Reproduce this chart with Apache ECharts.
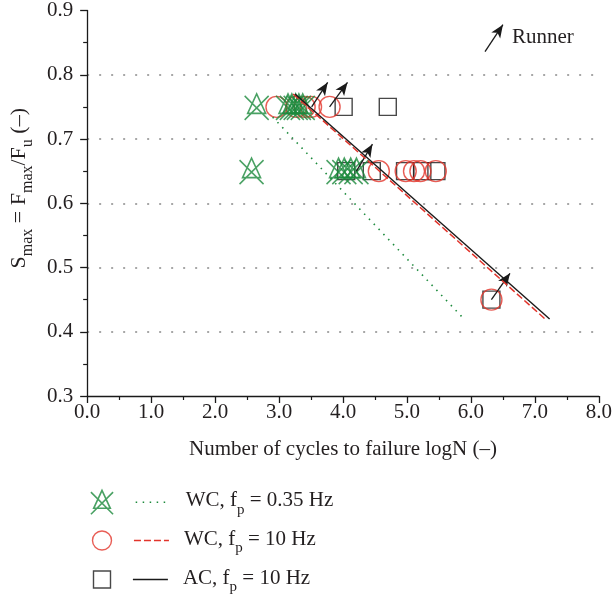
<!DOCTYPE html>
<html><head><meta charset="utf-8">
<script src="https://cdn.jsdelivr.net/npm/echarts@6/dist/echarts.min.js"></script>
<style>html,body{margin:0;padding:0;background:#fff}#c{width:615px;height:601px}</style>
</head><body><div id="c"></div>
<script>
const FONT = '"Liberation Serif", "DejaVu Serif", serif';
const FS = 21;
const TXT = '#231f20';
const GREEN = '#1c8a3c';
const RED = '#e2342b';
const BLACK = '#1a1a1a';

// tick labels
const xTickLabels = ['0.0','1.0','2.0','3.0','4.0','5.0','6.0','7.0','8.0'];
const yTickLabels = ['0.3','0.4','0.5','0.6','0.7','0.8','0.9'];

// test points [logN, Smax]
const wc035Points = [[2.65,0.75],[3.14,0.75],[3.20,0.75],[3.26,0.75],[3.31,0.75],[3.37,0.75],
                     [2.57,0.65],[3.93,0.65],[4.02,0.65],[4.12,0.65],[4.21,0.65]];
const wc10Points  = [[2.96,0.75],[3.27,0.75],[3.40,0.75],[3.50,0.75],[3.79,0.75],
                     [4.56,0.65],[4.98,0.65],[5.11,0.65],[5.21,0.65],[5.45,0.65],[6.32,0.45]];
const ac10Points  = [[4.01,0.75],[4.70,0.75],[4.05,0.65],[4.45,0.65],[4.97,0.65],[5.24,0.65],[5.46,0.65],[6.32,0.45]];

// fitted lines
const wc035Fit = [[2.90,0.734],[5.89,0.420]];
const wc10Fit  = [[3.22,0.770],[7.18,0.418]];
const ac10Fit  = [[3.25,0.770],[7.23,0.420]];

// runner arrows: [start, end]
const runnerArrows = [
  [[3.51,0.75],[3.76,0.788]],
  [[3.79,0.75],[4.07,0.788]],
  [[4.21,0.65],[4.46,0.692]],
  [[6.32,0.45],[6.61,0.491]],
  [[6.22,0.836],[6.50,0.878]]
];

// legend texts: [before sub, sub, after sub]
const seriesNames = ['WC, fp = 0.35 Hz','WC, fp = 10 Hz','AC, fp = 10 Hz'];
const legendParts = {
  'WC, fp = 0.35 Hz': ['WC, f','p',' = 0.35 Hz'],
  'WC, fp = 10 Hz':   ['WC, f','p',' = 10 Hz'],
  'AC, fp = 10 Hz':   ['AC, f','p',' = 10 Hz']
};
const pointNames = ['pts WC 0.35','pts WC 10','pts AC 10'];

const XTRI = 'path://M0,2L24,26M24,2L0,26M12,0L3,19.5L21,19.5Z';
const SQUARE = 'path://M0,0L10,0L10,10L0,10Z';

const richT = {
  t: {fontSize: FS, fontFamily: FONT, color: TXT, lineHeight: 24, verticalAlign: 'top'},
  s: {fontSize: 15, fontFamily: FONT, color: TXT, lineHeight: 15, padding: [12,0,0,0], verticalAlign: 'top'}
};
const richTitle = {
  t: {fontSize: 22, fontFamily: FONT, color: TXT, lineHeight: 25, verticalAlign: 'top'},
  s: {fontSize: 16, fontFamily: FONT, color: TXT, lineHeight: 16, padding: [12,0,0,0], verticalAlign: 'top'}
};

function legendRow(top, ptName, ptIcon, iconH, ptStyle, lineName, lineStyle) {
  return {
    orient: 'horizontal', left: 79.5, top: top,
    itemWidth: 35, itemHeight: iconH, itemGap: 21,
    selectedMode: false,
    data: [
      {name: ptName, icon: ptIcon, itemStyle: ptStyle},
      {name: lineName, lineStyle: lineStyle,
       itemStyle: {color: 'transparent', borderWidth: 0, opacity: 0}}
    ],
    formatter: function (n) {
      const p = legendParts[n];
      if (!p) return '';
      return '{t|' + p[0] + '}{s|' + p[1] + '}{t|' + p[2] + '}';
    },
    textStyle: {fontFamily: FONT, fontSize: FS, color: TXT, padding: [0,0,0,10], rich: richT}
  };
}

const chart = echarts.init(document.getElementById('c'), null, {renderer: 'canvas'});
chart.setOption({
  animation: false,
  backgroundColor: '#fff',
  textStyle: {fontFamily: FONT},
  grid: {left: 86, right: 14, top: 7, bottom: 205, containLabel: false},
  xAxis: {
    type: 'value', min: 0, max: 8, interval: 1,
    name: 'Number of cycles to failure logN (–)',
    nameLocation: 'middle', nameGap: 43,
    nameTextStyle: {fontFamily: FONT, fontSize: FS, color: TXT},
    axisLine: {show: true, onZero: false, lineStyle: {color: BLACK, width: 1.3}},
    axisTick: {show: true, inside: false, length: 7, lineStyle: {color: BLACK, width: 1.3}},
    minorTick: {show: true, splitNumber: 2, length: 4, lineStyle: {color: BLACK, width: 1.2}},
    axisLabel: {fontFamily: FONT, fontSize: FS, color: TXT, margin: 6,
      formatter: function (v) { return xTickLabels[Math.round(v)]; }},
    splitLine: {show: false}
  },
  yAxis: {
    type: 'value', min: 0.3, max: 0.9, interval: 0.1,
    name: '{t|S}{s|max}{t| = F}{s|max}{t|/F}{s|u}{t| (–)}',
    nameLocation: 'middle', nameGap: 49, nameRotate: 90,
    nameTextStyle: {rich: richTitle, padding: [0,0,0,30]},
    axisLine: {show: true, lineStyle: {color: BLACK, width: 1.3}},
    axisTick: {show: true, inside: false, length: 7, lineStyle: {color: BLACK, width: 1.3}},
    minorTick: {show: true, splitNumber: 2, length: 4, lineStyle: {color: BLACK, width: 1.2}},
    axisLabel: {fontFamily: FONT, fontSize: FS, color: TXT, margin: 14,
      formatter: function (v) { return yTickLabels[Math.round((v - 0.3) * 10)]; }},
    splitLine: {show: true, showMinLine: false, showMaxLine: false,
      lineStyle: {type: [2, 10], color: '#8a8a8a', width: 1.5}}
  },
  legend: [
    legendRow(484.5, pointNames[0], XTRI, 24, {color: 'transparent', borderColor: GREEN, borderWidth: 1.6},
              seriesNames[0], {color: GREEN, width: 1.6, type: [1.5, 5.5]}),
    legendRow(523.5, pointNames[1], 'circle', 19, {color: 'transparent', borderColor: RED, borderWidth: 1.4},
              seriesNames[1], {color: RED, width: 1.5, type: [7, 3]}),
    legendRow(562.5, pointNames[2], SQUARE, 17, {color: 'transparent', borderColor: BLACK, borderWidth: 1.4},
              seriesNames[2], {color: BLACK, width: 1.4, type: 'solid'})
  ],
  graphic: [{
    type: 'text', left: 512, top: 27,
    style: {text: 'Runner', fill: TXT, font: FS + 'px ' + FONT}
  }],
  series: [
    {name: pointNames[2], type: 'scatter', data: ac10Points, symbol: 'rect', symbolSize: 17, z: 2,
     itemStyle: {color: 'transparent', borderColor: BLACK, borderWidth: 1.4}},
    {name: pointNames[1], type: 'scatter', data: wc10Points, symbol: 'circle', symbolSize: 21, z: 3,
     itemStyle: {color: 'transparent', borderColor: RED, borderWidth: 1.4}},
    {name: pointNames[0], type: 'scatter', data: wc035Points, symbol: XTRI, symbolSize: [24, 26], z: 4,
     itemStyle: {color: 'transparent', borderColor: GREEN, borderWidth: 1.6}},
    {name: seriesNames[0], type: 'line', data: wc035Fit, symbol: 'none', z: 5,
     itemStyle: {color: GREEN},
     lineStyle: {color: GREEN, width: 1.6, type: [1.5, 5.5]}},
    {name: seriesNames[1], type: 'line', data: wc10Fit, symbol: 'none', z: 6,
     itemStyle: {color: RED},
     lineStyle: {color: RED, width: 1.5, type: [7, 3]}},
    {name: seriesNames[2], type: 'line', data: ac10Fit, symbol: 'none', z: 7,
     itemStyle: {color: BLACK},
     lineStyle: {color: BLACK, width: 1.4}},
    {name: 'Runner', type: 'line', data: [], z: 8,
     markLine: {
       silent: true, animation: false,
       symbol: ['none', 'arrow'], symbolSize: [8, 13],
       label: {show: false},
       lineStyle: {color: BLACK, width: 1.3, type: 'solid'},
       emphasis: {disabled: true},
       data: runnerArrows.map(function (a) { return [{coord: a[0]}, {coord: a[1]}]; })
     }}
  ]
});
</script>
</body></html>
